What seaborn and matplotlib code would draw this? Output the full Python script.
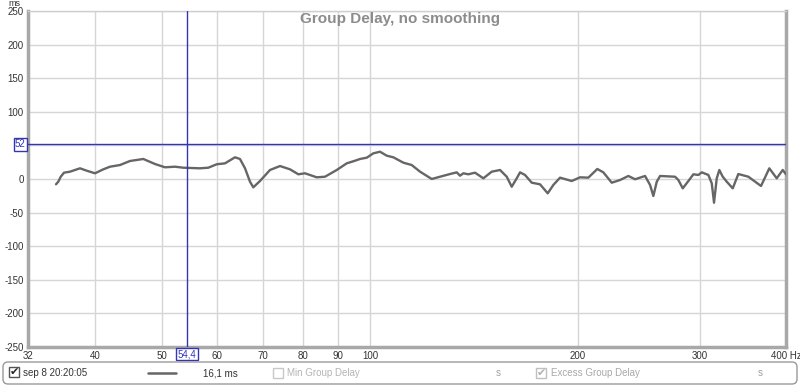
import matplotlib
matplotlib.use("Agg")
import matplotlib.pyplot as plt
import seaborn as sns
import pandas as pd
from matplotlib.patches import FancyBboxPatch, Rectangle
from matplotlib.ticker import FixedLocator, NullLocator
import matplotlib.transforms as mtransforms

# ---------------- data ----------------
freq_hz = [35.13, 35.40, 35.69, 36.08, 36.81, 37.42, 38.05, 38.91, 40.00, 41.13,
           42.05, 43.48, 44.95, 46.99, 48.86, 50.51, 52.22, 53.69,
           56.76, 58.35, 60.01, 61.69, 63.78, 64.85, 65.95, 67.05, 67.79, 69.32,
           71.67, 74.10, 76.61, 78.77, 80.54, 83.74, 86.09, 89.52, 92.55, 95.15, 96.75,
           98.93, 101.13, 103.41, 105.75, 108.10, 111.76, 114.93, 118.16, 122.86, 126.30,
           130.58, 133.53, 135.00, 136.50, 138.79, 141.93, 145.91, 150.05, 154.26, 157.74,
           160.38, 163.08, 164.88,
           167.65, 171.44, 176.24, 180.82, 184.23, 188.39, 195.88, 201.37, 207.02, 213.32,
           217.64, 223.82, 230.10, 236.56, 241.90, 250.10, 254.30, 257.11, 260.04, 262.91,
           276.39, 279.45, 283.57, 288.92, 293.78, 298.71, 302.12, 308.83, 312.35, 314.71,
           317.56, 320.32, 323.97, 328.32, 334.95, 341.25, 352.83, 368.07, 378.37, 387.81,
           395.67, 400.0]
delay_ms = [-7.9, -4, 3.4, 9.4, 10.9, 13.4, 15.9, 12.4, 8.5, 14.4,
            18.3, 20.8, 26.8, 29.8, 22.3, 17.4, 18.3, 16.8,
            15.9, 16.8, 21.9, 23.3, 32.3, 29.8, 15.9, -4, -12.4, -3,
            13.4, 19.3, 14.4, 7, 8.5, 2.5, 3.4, 13.4, 23.3, 27.2, 29.8,
            31.7, 38.2, 40.6, 34.7, 32.3, 24.3, 20.8, 10.9, 0, 3.4,
            7.4, 9.9, 4.9, 8.5, 7, 9.4, 1, 10.9, 13.4, 3.4,
            -11.5, 1, 9.9,
            6, -5.5, -7.9, -21.3, -8.9, 2, -3, 2.5, 2, 14.9,
            9.9, -5.5, -1.5, 4.5, -0.4, 4.5, -8.9, -25.3, -4, 4.5,
            3.4, -1.5, -13.9, -3, 7, 6, 9.9, 6, -6.5, -35.3,
            1, 13.4, 3.4, -4, -13.9, 7.4, 3.4, -10.4, 15.9, 1,
            13.4, 7]

x_ticks = [32, 40, 50, 60, 70, 80, 90, 100, 200, 300, 400]
x_tick_labels = ["32", "40", "50", "60", "70", "80", "90", "100", "200", "300", "400 Hz"]
y_ticks = [-250, -200, -150, -100, -50, 0, 50, 100, 150, 200, 250]
# the "50" label is hidden behind the cursor read-out in the reference
y_tick_labels = ["-250", "-200", "-150", "-100", "-50", "0", "", "100", "150", "200", "250"]

cursor_freq = 54.4
cursor_freq_label = "54,4"
cursor_delay = 52
cursor_delay_label = "52"

title = "Group Delay, no smoothing"
series_name = "sep 8 20:20:05"
series_value = "16,1 ms"

# ---------------- style ----------------
sns.set_theme(style="white")
plt.rcParams['font.family'] = ['Liberation Sans', 'DejaVu Sans']

W, H = 800, 386
fig = plt.figure(figsize=(W / 100, H / 100), dpi=100)
fig.patch.set_facecolor("white")

ax = fig.add_axes([28 / W, 1 - 347 / H, 758 / W, 336 / H])
ax.set_facecolor("white")

df = pd.DataFrame({"freq": freq_hz, "delay": delay_ms})
sns.lineplot(data=df, x="freq", y="delay", ax=ax, color="#666666",
             linewidth=1.7, estimator=None, zorder=3)

ax.set_xscale("log")
ax.set_xlim(32, 400)
ax.set_ylim(-250, 250)
ax.xaxis.set_major_locator(FixedLocator(x_ticks))
ax.xaxis.set_minor_locator(NullLocator())
ax.set_xticklabels(x_tick_labels)
ax.set_yticks(y_ticks)
ax.set_yticklabels(y_tick_labels)
ax.set_xlabel("")
ax.set_ylabel("")
ax.tick_params(axis="both", length=0, labelsize=7, colors="#333333")
ax.tick_params(axis="x", pad=3)
ax.tick_params(axis="y", pad=3)
ax.grid(True, color="#d6d6d6", linewidth=1)

for side in ["left", "bottom", "right"]:
    ax.spines[side].set_color("#a8a8a8")
    ax.spines[side].set_linewidth(2.5)
ax.spines["top"].set_color("#cfcfcf")
ax.spines["top"].set_linewidth(1)

# cursor lines
blue = "#3434b4"
ax.axvline(cursor_freq, color=blue, linewidth=1, zorder=4)
ax.axhline(cursor_delay, color=blue, linewidth=1, zorder=4)

box = dict(boxstyle="square,pad=0.15", facecolor="white", edgecolor=blue, linewidth=1)
trans_y = mtransforms.blended_transform_factory(ax.transAxes, ax.transData)
ax.text(-0.003, cursor_delay, cursor_delay_label, transform=trans_y, ha="right",
        va="center", fontsize=7, color=blue, bbox=box, zorder=5, clip_on=False)
trans_x = mtransforms.blended_transform_factory(ax.transData, ax.transAxes)
ax.text(cursor_freq, -0.006, cursor_freq_label, transform=trans_x, ha="center",
        va="top", fontsize=7, color=blue, bbox=box, zorder=5, clip_on=False)

# title and unit
fig.text(400 / W, 1 - 19 / H, title, ha="center", va="center", fontsize=11,
         fontweight="bold", color="#8c8c8c")
fig.text(14 / W, 1 - 3 / H, "ms", ha="center", va="center", fontsize=6.5, color="#333333")

# ---------------- legend bar (pixel coordinates overlay) ----------------
ov = fig.add_axes([0, 0, 1, 1], facecolor="none")
ov.set_xlim(0, W)
ov.set_ylim(H, 0)
ov.axis("off")

ov.add_patch(FancyBboxPatch((3, 362), 794, 22, boxstyle="round,pad=0,rounding_size=5",
                            facecolor="white", edgecolor="#9a9a9a", linewidth=1))

def checkbox(x, y, checked, color):
    ov.add_patch(Rectangle((x, y), 10, 10, facecolor="white", edgecolor=color, linewidth=1))
    if checked:
        ov.text(x + 5.5, y + 5, "\u2714", ha="center", va="center", fontsize=8,
                color="#222222" if color == "#555555" else "#b0b0b0",
                family="DejaVu Sans")

checkbox(9, 367, True, "#555555")
ov.text(23, 373.5, series_name, ha="left", va="center", fontsize=7, color="#333333")
ov.plot([148, 176], [373, 373], color="#666666", linewidth=1.8)
ov.text(203, 373.5, series_value, ha="left", va="center", fontsize=7, color="#333333")
checkbox(273, 368, False, "#c8c8c8")
ov.text(287, 373.5, "Min Group Delay", ha="left", va="center", fontsize=7, color="#b4b4b4")
ov.text(498, 373.5, "s", ha="center", va="center", fontsize=7, color="#a0a0a0")
checkbox(536, 368, True, "#c0c0c0")
ov.text(551, 373.5, "Excess Group Delay", ha="left", va="center", fontsize=7, color="#a8a8a8")
ov.text(760, 373.5, "s", ha="center", va="center", fontsize=7, color="#a0a0a0")

fig.savefig("out.png", dpi=100, facecolor="white")
